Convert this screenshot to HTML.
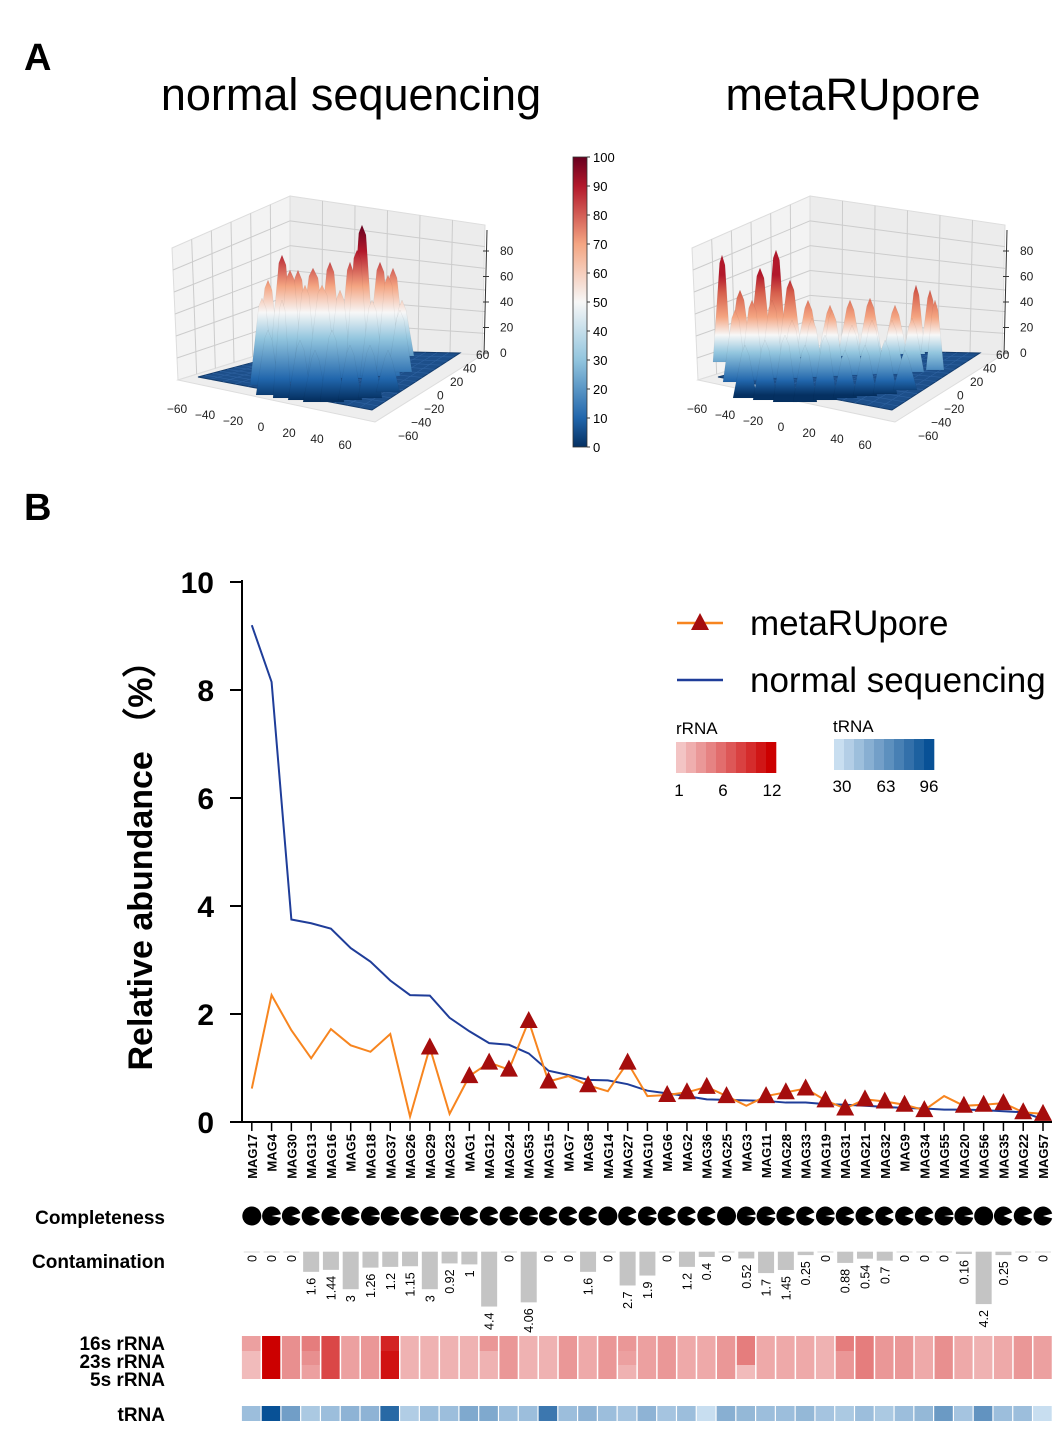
<!DOCTYPE html>
<html><head><meta charset="utf-8"><style>
html,body{margin:0;padding:0;background:#fff;}
svg{display:block;font-family:"Liberation Sans",Arial,sans-serif;}
</style></head><body>
<svg id="fig" width="1057" height="1430" viewBox="0 0 1057 1430" xmlns="http://www.w3.org/2000/svg">
<defs>
<linearGradient id="cbar" x1="0" y1="1" x2="0" y2="0">
<stop offset="0" stop-color="#053061"/><stop offset="0.1" stop-color="#2166ac"/><stop offset="0.3" stop-color="#92c5de"/><stop offset="0.5" stop-color="#f7f7f7"/><stop offset="0.7" stop-color="#f4a582"/><stop offset="0.9" stop-color="#b2182b"/><stop offset="1" stop-color="#67001f"/>
</linearGradient>
<linearGradient id="gL" gradientUnits="userSpaceOnUse" x1="0" y1="400" x2="0" y2="225">
<stop offset="0" stop-color="#053061"/><stop offset="0.12" stop-color="#2166ac"/><stop offset="0.35" stop-color="#92c5de"/><stop offset="0.5" stop-color="#f7f7f7"/><stop offset="0.65" stop-color="#f4a582"/><stop offset="0.85" stop-color="#b2182b"/><stop offset="1" stop-color="#67001f"/>
</linearGradient>
<linearGradient id="gR" gradientUnits="userSpaceOnUse" x1="0" y1="395" x2="0" y2="275">
<stop offset="0" stop-color="#053061"/><stop offset="0.12" stop-color="#2166ac"/><stop offset="0.35" stop-color="#92c5de"/><stop offset="0.5" stop-color="#f7f7f7"/><stop offset="0.65" stop-color="#f4a582"/><stop offset="0.85" stop-color="#d6604d"/><stop offset="1" stop-color="#b2182b"/>
</linearGradient>
</defs>
<text x="24" y="70" font-size="38" font-weight="bold">A</text>
<text x="24" y="520" font-size="38" font-weight="bold">B</text>
<text x="351" y="110" font-size="45" text-anchor="middle">normal sequencing</text>
<text x="853" y="110" font-size="45" text-anchor="middle">metaRUpore</text>
<g id="p3d"></g>
<g>
<rect x="573" y="157" width="14" height="290" fill="url(#cbar)" stroke="#333" stroke-width="0.8"/>
</g>
<g id="cbticks"></g>
<g id="chart"></g>
</svg>
<script>
const NS="http://www.w3.org/2000/svg";
function mk(tag,attrs,parent,text){const e=document.createElementNS(NS,tag);for(const k in attrs)e.setAttribute(k,attrs[k]);if(text!==undefined)e.textContent=text;parent.appendChild(e);return e;}

// ---- colorbar ticks ----
const cbTicks=[0,10,20,30,40,50,60,70,80,90,100];
const cbg=document.getElementById('cbticks');
cbTicks.forEach(v=>{const y=447-v*2.9;
 mk('line',{x1:587,y1:y,x2:590,y2:y,stroke:'#333'},cbg);
 const t=mk('text',{x:593,y:y+5,'font-size':13},cbg,String(v));
 
 
});

// ---- 3D surface panels (decorative approximations) ----
const spikesL=[[268,280,8,365],[282,255,8,362],[298,270,8,360],[313,268,10,360],[330,262,8,360],[350,262,7,358],[362,225,8,358],[380,262,8,357],[393,268,8,356],[402,300,8,356],
[262,298,8,385],[290,270,9,382],[305,285,8,380],[322,285,10,380],[340,290,8,378],[357,250,8,378],[372,300,8,376],[388,275,8,376],[400,310,8,372],
[268,330,8,395],[282,300,6,398],[300,340,8,400],[315,350,8,402],[332,330,8,402],[350,345,8,400],[370,345,8,398],[388,350,8,392]];
const spikesR=[[722,255,6,362],[740,290,8,360],[760,268,8,358],[776,250,7,358],[790,280,8,357],[808,300,8,356],[830,305,8,356],[850,300,8,356],[870,298,8,355],[895,305,8,354],[916,285,6,354],[930,290,6,352],
[735,310,8,382],[752,300,8,380],[772,300,8,378],[792,320,8,378],[812,318,8,377],[832,310,8,376],[852,325,8,375],[872,320,8,374],[892,320,8,374],[912,318,8,372],[935,300,6,370],
[745,345,8,398],[765,340,8,400],[785,335,8,402],[805,345,8,402],[825,335,8,400],[845,350,8,398],[865,345,8,396],[885,340,8,394],[905,350,8,390]];
const axXT=['−60','−40','−20','0','20','40','60'];
const axZT=['0','20','40','60','80'];
function draw3D(dx,spikes,grad,name){
 const g=mk('g',{},document.getElementById('p3d'));
 
 
 const P=(x,y)=>(x+dx)+','+y;
 mk('polygon',{points:[P(172,248),P(290,196),P(290,345),P(178,380)].join(' '),fill:'#f3f3f3',stroke:'#ddd'},g);
 mk('polygon',{points:[P(290,196),P(485,225),P(482,355),P(290,345)].join(' '),fill:'#ececec',stroke:'#ddd'},g);
 mk('polygon',{points:[P(178,380),P(290,345),P(482,355),P(375,422)].join(' '),fill:'#eeeeee',stroke:'#ddd'},g);
 for(let i=1;i<6;i++){const f=i/6;
  mk('line',{x1:172+dx+(290-172)*f,y1:248+(196-248)*f,x2:178+dx+(290-178)*f,y2:380+(345-380)*f,stroke:'#ccc'},g);
  mk('line',{x1:290+dx+195*f,y1:196+29*f,x2:290+dx+192*f,y2:345+10*f,stroke:'#ccc'},g);
  mk('line',{x1:172+dx+(178-172)*f,y1:248+(380-248)*f,x2:290+dx,y2:196+149*f,stroke:'#ccc'},g);
  mk('line',{x1:290+dx,y1:196+149*f,x2:485+dx,y2:225+130*f,stroke:'#ccc'},g);
 }
 mk('polygon',{points:[P(198,377),P(300,350),P(460,353),P(372,410)].join(' '),fill:'#1d4f8a',stroke:'#123a6a'},g);
 for(let i=1;i<14;i++){const f=i/14;
  mk('line',{x1:198+dx+102*f,y1:377-27*f,x2:372+dx+88*f,y2:410-57*f,stroke:'#2e62a0','stroke-width':0.6},g);
  mk('line',{x1:198+dx+174*f,y1:377+33*f,x2:300+dx+160*f,y2:350+3*f,stroke:'#2e62a0','stroke-width':0.6},g);
 }
 spikes.forEach(s=>{const cx=s[0]+dx,top=s[1],hw=s[2],base=s[3];
  const p=mk('polygon',{points:[(cx-hw*1.5)+','+base,(cx-hw*0.4)+','+(top+8),cx+','+top,(cx+hw*0.5)+','+(top+10),(cx+hw*1.5)+','+base].join(' '),fill:'url(#'+grad+')',stroke:'rgba(0,0,0,0.08)','stroke-width':0.5},g);
  
  
 });
 axXT.forEach((t,i)=>{const x=177+dx+i*28,y=405+i*6;mk('text',{x:x,y:y+8,'font-size':12,'text-anchor':'middle',fill:'#222'},g,t);});
 axXT.forEach((t,i)=>{const x=398+dx+i*13,y=440-i*13.5;mk('text',{x:x,y:y,'font-size':12,fill:'#222'},g,t);});
 axZT.forEach((t,i)=>{const y=357-i*25.5;mk('text',{x:500+dx,y:y,'font-size':12,fill:'#222'},g,t);mk('line',{x1:483+dx,y1:y-4,x2:489+dx,y2:y-4,stroke:'#333'},g);});
 mk('line',{x1:487+dx,y1:230,x2:484+dx,y2:355,stroke:'#333'},g);
}
draw3D(0,spikesL,'gL','left-3d-surface-plot');
draw3D(520,spikesR.map(s=>[s[0]-520,s[1],s[2],s[3]]),'gR','right-3d-surface-plot');

// ---- Panel B data ----
const mags=['MAG17','MAG4','MAG30','MAG13','MAG16','MAG5','MAG18','MAG37','MAG26','MAG29','MAG23','MAG1','MAG12','MAG24','MAG53','MAG15','MAG7','MAG8','MAG14','MAG27','MAG10','MAG6','MAG2','MAG36','MAG25','MAG3','MAG11','MAG28','MAG33','MAG19','MAG31','MAG21','MAG32','MAG9','MAG34','MAG55','MAG20','MAG56','MAG35','MAG22','MAG57'];
const normalSeq=[9.2,8.15,3.75,3.68,3.58,3.22,2.97,2.62,2.35,2.34,1.93,1.68,1.46,1.43,1.27,0.95,0.87,0.78,0.77,0.7,0.58,0.53,0.48,0.42,0.41,0.40,0.39,0.36,0.36,0.33,0.32,0.30,0.28,0.26,0.25,0.23,0.23,0.22,0.20,0.18,0.05];
const metaRU=[0.62,2.35,1.7,1.18,1.72,1.42,1.3,1.63,0.1,1.38,0.15,0.85,1.1,0.97,1.87,0.75,0.85,0.68,0.57,1.1,0.48,0.5,0.55,0.65,0.48,0.3,0.48,0.55,0.62,0.4,0.25,0.42,0.38,0.32,0.22,0.48,0.3,0.32,0.35,0.18,0.15];
const markerIdx=[9,11,12,13,14,15,17,19,21,22,23,24,26,27,28,29,30,31,32,33,34,36,37,38,39,40];
const completeness=[100,94,90,88,92,90,95,93,90,92,96,88,90,93,94,90,89,90,100,88,93,88,88,88,100,95,93,90,88,94,90,88,88,90,90,96,94,100,88,90,92];
const contamination=[0,0,0,1.6,1.44,3,1.26,1.2,1.15,3,0.92,1,4.4,0,4.06,0,0,1.6,0,2.7,1.9,0,1.2,0.4,0,0.52,1.7,1.45,0.25,0,0.88,0.54,0.7,0,0,0,0.16,4.2,0.25,0,0];
const rRNA16=[3,12,4,5,8,3,3.5,10,2,2,2,2,3.5,3.5,2,2,3.5,2.5,3.5,3.5,3,3.5,2.5,2.5,3.5,5,2.5,2.5,2.5,2,5,5,3.5,3.5,2.5,4,2.5,2,2.5,3.5,3];
const rRNA23=[1.5,12,4,4,8,3,3.5,11,2,2,2,2,2,3.5,2,2,3.5,2.5,3.5,3,3,3.5,2.5,2.5,3.5,5,2.5,2.5,2.5,2,3.5,5,3.5,3.5,2.5,4,2.5,2,2.5,3.5,3];
const rRNA5=[1.5,12,4,3,8,3,3.5,11,2,2,2,2,2,3.5,2,2,3.5,2.5,3.5,2,3,3.5,2.5,2.5,3.5,1.5,2.5,2.5,2.5,2,3.5,5,3.5,3.5,2.5,4,2.5,2,2.5,3.5,3];
const tRNA=[45,96,60,40,45,50,50,85,38,45,45,55,55,45,45,78,45,50,45,42,50,42,45,30,52,48,45,45,48,42,40,45,40,45,48,62,42,65,45,45,30];
const yTicks=[0,2,4,6,8,10];

const ch=document.getElementById('chart');
const X0=251.8,STEP=19.78;
const xS=i=>X0+i*STEP;
const yS=v=>1122-v*54;
const lerp=(a,b,t)=>Math.round(a+(b-a)*t);
function rCol(v){const t=Math.max(0,Math.min(1,(v-1)/11));return `rgb(${lerp(243,204,t)},${lerp(196,0,t)},${lerp(196,0,t)})`;}
function tCol(v){const t=Math.max(0,Math.min(1,(v-30)/66));return `rgb(${lerp(200,8,t)},${lerp(222,81,t)},${lerp(240,150,t)})`;}

const ax=mk('g',{},ch);
mk('line',{x1:242,y1:580,x2:242,y2:1123,stroke:'#000','stroke-width':2},ax);
mk('line',{x1:241,y1:1122,x2:1052,y2:1122,stroke:'#000','stroke-width':2},ax);
yTicks.forEach(v=>{const y=yS(v);
 mk('line',{x1:230,y1:y,x2:242,y2:y,stroke:'#000','stroke-width':2},ax);
 const t=mk('text',{x:214,y:y+11,'font-size':30,'font-weight':'bold','text-anchor':'end'},ax,String(v));
 
 
});
const yt=mk('text',{x:0,y:0,'font-size':34,'font-weight':'bold','text-anchor':'middle',transform:'translate(152,857) rotate(-90)'},ch,'Relative abundance （%）');



mags.forEach((m,i)=>{const x=xS(i);
 mk('line',{x1:x,y1:1122,x2:x,y2:1131,stroke:'#000','stroke-width':1.5},ax);
 const t=mk('text',{x:0,y:0,'font-size':13,'font-weight':'bold','text-anchor':'end',transform:`translate(${x+5},1134) rotate(-90)`},ch,m);
 
 
});

const nl=mk('polyline',{points:normalSeq.map((v,i)=>xS(i)+','+yS(v)).join(' '),fill:'none',stroke:'#1f3d99','stroke-width':2},ch);


const ml=mk('polyline',{points:metaRU.map((v,i)=>xS(i)+','+yS(v)).join(' '),fill:'none',stroke:'#f7851f','stroke-width':2},ch);


markerIdx.forEach(i=>{const x=xS(i),y=yS(metaRU[i]);
 const p=mk('polygon',{points:`${x},${y-10} ${x-9},${y+7} ${x+9},${y+7}`,fill:'#a50d0d'},ch);
 
 
});

const lg=mk('g',{},ch);
mk('line',{x1:677,y1:623,x2:723,y2:623,stroke:'#f7851f','stroke-width':2.5},lg);
mk('polygon',{points:'700,613 691,630 709,630',fill:'#a50d0d'},lg);
mk('text',{x:750,y:635,'font-size':35},lg,'metaRUpore');
mk('line',{x1:677,y1:680,x2:723,y2:680,stroke:'#1f3d99','stroke-width':2.5},lg);
mk('text',{x:750,y:692,'font-size':35},lg,'normal sequencing');
mk('text',{x:676,y:734,'font-size':17},lg,'rRNA');
for(let k=0;k<10;k++)mk('rect',{x:676+k*10,y:742,width:10.3,height:31,fill:rCol(1+k*11/9)},lg);
[['1',679],['6',723],['12',772]].forEach(a=>mk('text',{x:a[1],y:796,'font-size':17,'text-anchor':'middle'},lg,a[0]));
mk('text',{x:833,y:732,'font-size':17},lg,'tRNA');
for(let k=0;k<10;k++)mk('rect',{x:834+k*10,y:739,width:10.3,height:31,fill:tCol(30+k*66/9)},lg);
[['30',842],['63',886],['96',929]].forEach(a=>mk('text',{x:a[1],y:792,'font-size':17,'text-anchor':'middle'},lg,a[0]));

[['Completeness',1224,'completeness-label'],['Contamination',1268,'contamination-label'],['16s rRNA',1350,'16s-rrna-label'],['23s rRNA',1368,'23s-rrna-label'],['5s rRNA',1386,'5s-rrna-label'],['tRNA',1421,'trna-label']].forEach(a=>{
 const t=mk('text',{x:165,y:a[1],'font-size':19,'font-weight':'bold','text-anchor':'end'},ch,a[0]);
 
 
});

completeness.forEach((c,i)=>{const cx=xS(i),cy=1216,r=9.5;
 let el;
 if(c>=99.5){el=mk('circle',{cx:cx,cy:cy,r:r,fill:'#000'},ch);}
 else{const gap=(100-c)/100*2*Math.PI;const a0=gap/2;
  const x1=cx+r*Math.cos(a0),y1=cy-r*Math.sin(a0),x2=cx+r*Math.cos(-a0),y2=cy-r*Math.sin(-a0);
  el=mk('path',{d:`M${cx},${cy} L${x1},${y1} A${r},${r} 0 1 0 ${x2},${y2} Z`,fill:'#000'},ch);}
 
 
});

contamination.forEach((v,i)=>{const x=xS(i);
 mk('line',{x1:x-8,y1:1252,x2:x+8,y2:1252,stroke:'#e6e6e6','stroke-width':1.5},ch);
 const h=v*12.4;
 if(v>0){const b=mk('rect',{x:x-8,y:1252,width:16,height:h,fill:'#c4c4c4'},ch);
  
  }
 const t=mk('text',{x:0,y:0,'font-size':12.5,'text-anchor':'end',transform:`translate(${x+4.5},${1255+h+(v>0?3:0)}) rotate(-90)`},ch,String(v));
 
 
});

const rows=[[rRNA16,1336,15],[rRNA23,1351,14],[rRNA5,1365,14]];
rows.forEach(rw=>rw[0].forEach((v,i)=>{
 const c=mk('rect',{x:xS(i)-9.9,y:rw[1],width:19.1,height:rw[2],fill:rCol(v)},ch);
 
 
}));
mags.forEach((m,i)=>mk('line',{x1:xS(i)+9.5,y1:1336,x2:xS(i)+9.5,y2:1379,stroke:'#fff','stroke-width':1.5},ch));
tRNA.forEach((v,i)=>{
 const c=mk('rect',{x:xS(i)-9.9,y:1406,width:18.6,height:15,fill:tCol(v)},ch);
 
 
});
</script>
</body></html>
